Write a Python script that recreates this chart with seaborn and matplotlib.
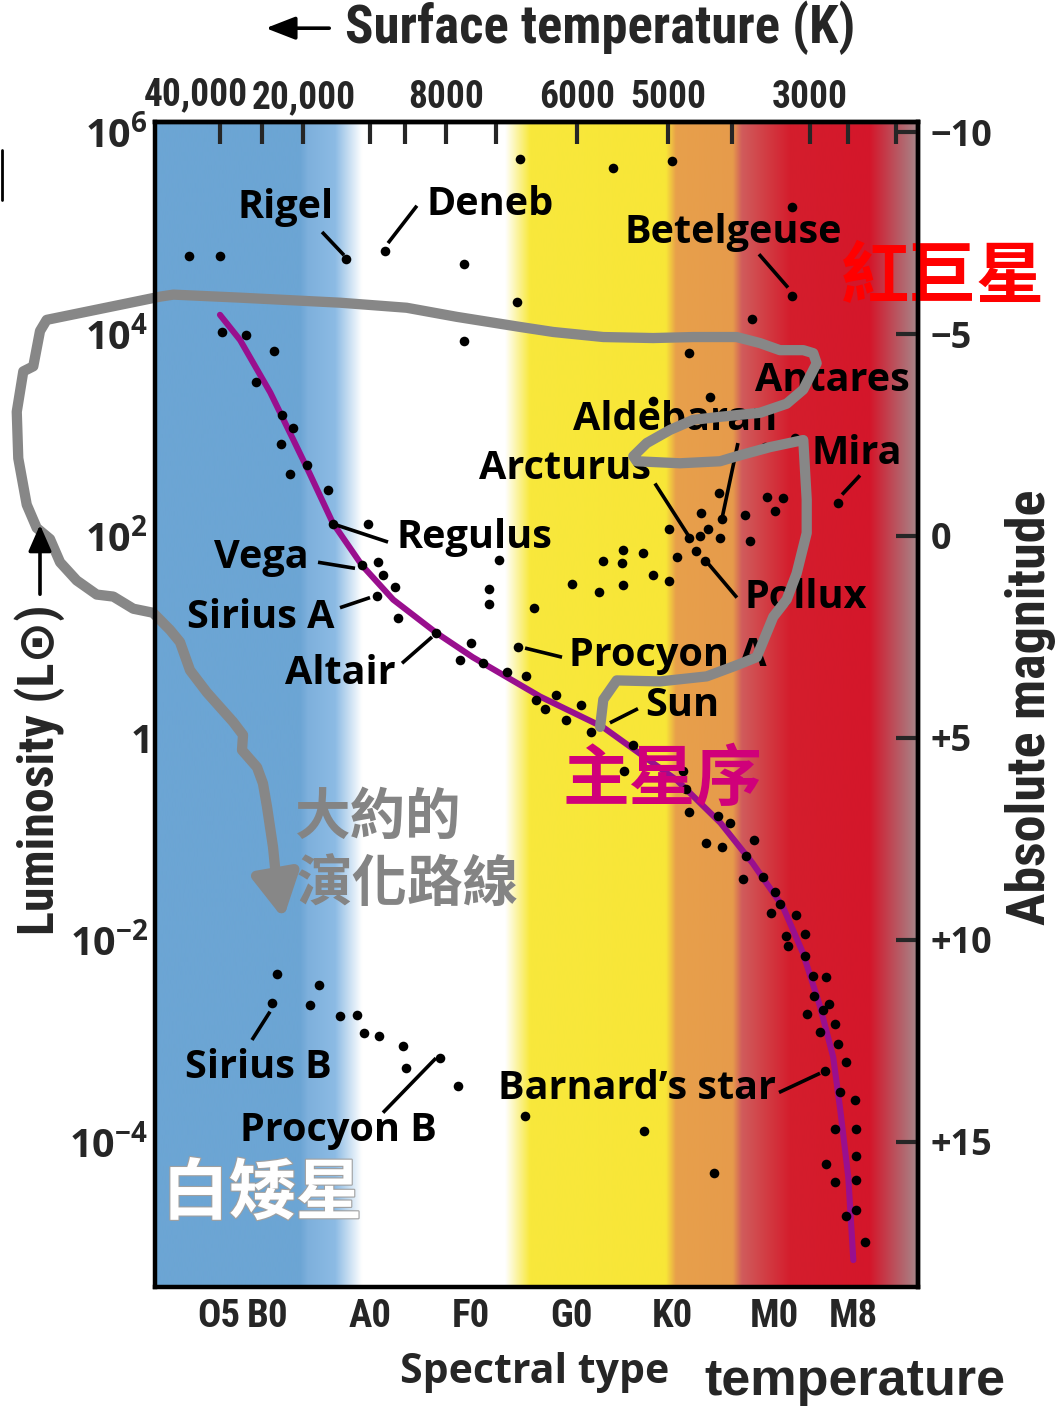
import numpy as np
import pandas as pd
import matplotlib
matplotlib.use("Agg")
import matplotlib.pyplot as plt
import matplotlib.patheffects as pe
from matplotlib import font_manager
from matplotlib.lines import Line2D
import seaborn as sns

# Spectral axis units: O=0, B=10, A=20, F=30, G=40, K=50, M=60 (+ subclass)
spectral_ticks = [5.0, 9.8, 20.0, 30.0, 40.0, 50.0, 60.2, 68.0]
spectral_labels = ["O5", "B0", "A0", "F0", "G0", "K0", "M0", "M8"]

# Surface temperature scale along the top edge
temp_tick_pos = [5.1, 9.25, 13.38, 20.0, 23.48, 27.55, 32.51, 40.53, 49.62, 55.98, 63.69, 67.5, 72.24]
temp_tick_labels = ["", "", "20,000", "", "", "8000", "", "6000", "5000", "", "3000", "", ""]

# Luminosity as log10(L / Lsun), with matching absolute magnitudes
lum_ticks = [6, 4, 2, 0, -2, -4]
lum_labels = [r"$10^{6}$", r"$10^{4}$", r"$10^{2}$", r"$1$", r"$10^{-2}$", r"$10^{-4}$"]
mag_labels = ["\u221210", "\u22125", "0", "+5", "+10", "+15"]

# Giants and supergiants
giant_spec = [2.0, 5.1, 17.6, 21.5, 29.3, 34.6, 29.3, 34.9, 44.1, 50.0, 61.9, 61.9, 57.9, 51.7,
              53.8, 48.1, 62.2, 59.2, 66.5, 54.7, 59.4, 61.0, 60.2, 52.9, 55.0, 57.2, 49.7, 51.7,
              52.8, 53.6, 54.8, 57.7, 52.4, 53.3, 50.5, 45.1, 47.1, 45.0, 43.1, 48.1, 49.7, 40.1,
              42.7, 45.1, 36.3, 32.8, 31.8, 31.8]
giant_logl = [4.77, 4.77, 4.74, 4.82, 4.69, 4.32, 3.93, 5.73, 5.64, 5.71, 5.26, 4.38, 4.15, 3.81,
              3.38, 3.34, 2.97, 2.88, 2.33, 2.43, 2.39, 2.38, 2.25, 2.23, 2.17, 2.21, 2.07, 1.98,
              2.00, 2.07, 1.98, 1.95, 1.85, 1.75, 1.79, 1.86, 1.83, 1.73, 1.75, 1.61, 1.55, 1.52,
              1.45, 1.51, 1.29, 1.76, 1.48, 1.33]

# Main-sequence stars
ms_spec = [5.3, 7.7, 10.5, 8.7, 11.3, 12.4, 11.2, 13.7, 12.1, 15.8, 19.8, 16.3, 19.2, 20.8, 21.3,
           22.5, 20.7, 22.8, 26.6, 30.0, 28.9, 31.2, 33.6, 35.5, 36.5, 34.7, 37.4, 38.5, 39.5,
           41.0, 41.9, 46.1, 45.2, 51.1, 51.4, 51.7, 54.6, 55.8, 53.4, 55.0, 58.1, 57.3, 57.0,
           59.0, 60.2, 60.7, 59.8, 62.3, 61.3, 63.2, 61.5, 63.2, 64.0, 65.3, 64.1, 65.6, 65.0,
           63.4, 66.2, 64.7, 66.5, 67.3, 65.2, 66.7, 68.2, 66.2, 68.3, 68.3, 65.3, 66.2, 68.3,
           68.3, 67.3, 69.2]
ms_logl = [4.02, 3.99, 3.83, 3.52, 3.20, 3.07, 2.91, 2.70, 2.61, 2.46, 2.12, 2.12, 1.71, 1.74, 1.61,
           1.49, 1.41, 1.19, 1.04, 0.94, 0.77, 0.74, 0.65, 0.61, 0.38, 0.90, 0.29, 0.43, 0.18,
           0.33, 0.06, -0.07, -0.33, -0.33, -0.51, -0.73, -0.77, -0.84, -1.04, -1.08, -1.01, -1.17,
           -1.40, -1.38, -1.53, -1.64, -1.73, -1.75, -1.96, -1.94, -2.06, -2.16, -2.36, -2.37,
           -2.55, -2.63, -2.69, -2.73, -2.83, -2.91, -3.03, -3.21, -3.30, -3.51, -3.58, -3.87,
           -3.87, -4.14, -4.22, -4.40, -4.38, -4.67, -4.73, -4.99]

# White dwarfs and other faint stars
faint_spec = [10.8, 14.9, 10.3, 14.0, 17.0, 18.7, 19.4, 20.9, 23.3, 27.0, 23.6, 28.7, 35.4, 47.2, 54.2]
faint_logl = [-2.34, -2.45, -2.62, -2.64, -2.75, -2.74, -2.92, -2.95, -3.05, -3.17, -3.27, -3.45,
              -3.74, -3.89, -4.31]

# Main-sequence ridge line
ridge_spec = [5.1, 7.1, 10.1, 12.4, 14.0, 16.3, 19.2, 22.3, 26.6, 30.2, 36.9, 43.1, 50.5, 54.8,
              58.0, 61.0, 63.0, 64.7, 66.0, 66.7, 67.5, 68.0]
ridge_logl = [4.19, 3.94, 3.42, 2.95, 2.62, 2.13, 1.71, 1.37, 1.04, 0.80, 0.41, 0.11, -0.42, -0.84,
              -1.24, -1.67, -2.13, -2.66, -3.16, -3.68, -4.35, -5.17]

# Approximate evolutionary track of a Sun-like star
track_spec = [42.85, 43.17, 44.50, 48.80, 53.44, 56.41, 58.40, 59.39, 60.05, 61.38, 62.37, 63.37,
              63.37, 63.03, 59.72, 56.42, 54.76, 50.79, 46.48, 46.15, 47.48, 49.79, 52.10, 54.76,
              58.73, 61.38, 63.03, 63.69, 64.36, 64.02, 63.03, 60.71, 58.73, 56.41, 52.10, 48.13,
              43.17, 38.20, 34.90, 28.61, 23.64, 17.02, 7.09, 0.47, -0.85, -12.11, -12.77, -13.44,
              -14.43, -15.08, -14.93, -14.09, -13.10, -11.78, -10.78, -9.13, -7.14, -5.49, -3.51,
              -1.55, 0.14, 1.13, 2.13, 3.81, 6.40, 7.39, 7.29, 8.78, 9.37, 9.77, 10.37, 10.67]
track_logl = [0.11, 0.38, 0.57, 0.56, 0.61, 0.72, 0.80, 1.04, 1.20, 1.37, 1.63, 2.03,
              2.36, 2.95, 2.88, 2.79, 2.74, 2.72, 2.74, 2.79, 2.92, 3.05, 3.15, 3.18,
              3.22, 3.31, 3.45, 3.58, 3.71, 3.81, 3.84, 3.84, 3.91, 3.97, 3.97, 3.96,
              3.97, 4.02, 4.07, 4.17, 4.26, 4.31, 4.36, 4.39, 4.37, 4.14, 4.03, 3.68,
              3.63, 3.23, 2.77, 2.31, 2.08, 1.97, 1.74, 1.56, 1.42, 1.40, 1.28,
              1.24, 1.07, 0.95, 0.67, 0.45, 0.16, 0.03, -0.12, -0.29, -0.45, -0.68, -1.08, -1.38]
track_tip = (11.39, -1.79)

# ---------------------------------------------------------------------------
sns.set_style("white")
plt.rcParams["mathtext.fontset"] = "custom"
plt.rcParams["mathtext.rm"] = "Open Sans:bold"
plt.rcParams["mathtext.bf"] = "Open Sans:bold"
plt.rcParams["mathtext.it"] = "Open Sans:bold"
plt.rcParams["font.family"] = ["Open Sans", "DejaVu Sans"]

installed = {f.name for f in font_manager.fontManager.ttflist}
if "Liberation Sans Narrow" in installed:
    NARROW, NSCALE = "Liberation Sans Narrow", 1.0
elif "Roboto Condensed" in installed:
    NARROW, NSCALE = "Roboto Condensed", 1.0
else:
    NARROW, NSCALE = "Liberation Sans", 0.82
CJK = ["Noto Sans CJK TC", "DejaVu Sans"]
LABEL = ["Open Sans", "DejaVu Sans"]

XMIN, XMAX = -1.35, 74.42
YMIN, YMAX = -5.436, 6.099

fig = plt.figure(figsize=(10.61, 14.09), dpi=100)
ax = fig.add_axes([0.1461, 0.0866, 0.7191, 0.8268])

# temperature-coloured background bands
stop_x = [XMIN, 13.05, 13.85, 16.53, 19.2, 33.43, 35.9, 49.4, 50.4, 56.05, 56.95, 61.7, 69.66, XMAX]
stop_rgb = [(108, 165, 212), (108, 165, 212), (126, 176, 220), (140, 187, 228), (255, 255, 255),
            (255, 255, 255), (248, 232, 60), (248, 230, 55), (232, 160, 75), (230, 155, 75),
            (208, 92, 92), (212, 30, 45), (212, 22, 42), (165, 135, 138)]
gx = np.linspace(XMIN, XMAX, 1500)
grad = np.stack([np.interp(gx, stop_x, [c[i] for c in stop_rgb]) for i in range(3)], axis=-1) / 255.0
ax.imshow(grad[None, :, :], extent=[XMIN, XMAX, YMIN, YMAX], aspect="auto",
          interpolation="bilinear", zorder=0)

# main-sequence ridge
sns.lineplot(x=ridge_spec, y=ridge_logl, sort=False, estimator=None, color="#990f8e",
             linewidth=4.4, ax=ax, zorder=2)

# stars
stars = pd.concat([
    pd.DataFrame({"spec": giant_spec, "logL": giant_logl, "kind": "giant"}),
    pd.DataFrame({"spec": ms_spec, "logL": ms_logl, "kind": "main sequence"}),
    pd.DataFrame({"spec": faint_spec, "logL": faint_logl, "kind": "faint"}),
])
sns.scatterplot(data=stars, x="spec", y="logL", color="black", s=48, linewidth=0,
                legend=False, ax=ax, zorder=3)

# named stars: label position and leader line
named = [
    ("Rigel", 11.66, 5.25, (15.24, 5.01, 17.42, 4.78)),
    ("Deneb", 31.92, 5.28, (21.79, 4.90, 24.66, 5.27)),
    ("Betelgeuse", 56.05, 5.01, (58.63, 4.79, 61.51, 4.46)),
    ("Antares", 65.87, 3.54, None),
    ("Aldebaran", 50.29, 3.15, (56.54, 2.92, 54.95, 2.17)),
    ("Arcturus", 39.36, 2.67, (48.30, 2.52, 51.58, 2.01)),
    ("Mira", 68.36, 2.82, (68.66, 2.60, 66.88, 2.41)),
    ("Regulus", 30.33, 1.99, (16.32, 2.12, 21.79, 1.94)),
    ("Vega", 9.18, 1.79, (14.84, 1.74, 18.51, 1.68)),
    ("Sirius A", 9.18, 1.19, (17.02, 1.29, 20.0, 1.39)),
    ("Altair", 17.02, 0.64, (23.18, 0.74, 26.16, 1.0)),
    ("Pollux", 63.3, 1.39, (53.56, 1.73, 56.44, 1.39)),
    ("Procyon A", 49.6, 0.82, (35.40, 0.89, 39.07, 0.80)),
    ("Sun", 50.99, 0.32, (43.83, 0.15, 46.61, 0.29)),
    ("Sirius B", 8.88, -3.26, (8.28, -2.99, 10.07, -2.71)),
    ("Procyon B", 16.82, -3.89, (21.29, -3.71, 26.55, -3.17)),
    ("Barnard\u2019s star", 46.51, -3.47, (60.62, -3.51, 64.69, -3.32)),
]
for name, tx, ty, lead in named:
    ax.text(tx, ty, name, ha="center", va="center", fontsize=28.5, fontweight="bold",
            family=LABEL, color="black", zorder=4)
    if lead is not None:
        ax.plot([lead[0], lead[2]], [lead[1], lead[3]], color="black", lw=2.6,
                solid_capstyle="butt", zorder=4)

# evolutionary track, drawn over everything
sns.lineplot(x=track_spec, y=track_logl, sort=False, estimator=None, color="#878787",
             linewidth=7.4, ax=ax, zorder=6, clip_on=False,
             solid_joinstyle="round", solid_capstyle="round")
ax.annotate("", xy=track_tip, xytext=(track_spec[-1], track_logl[-1]),
            arrowprops=dict(arrowstyle="-|>,head_length=2.6,head_width=1.4",
                            color="#878787", lw=7.4, shrinkA=0, shrinkB=0),
            annotation_clip=False, zorder=6)

# Chinese annotations
ax.text(76.9, 4.55, "紅巨星", color="#ff0000", fontsize=49, fontweight="bold", family=CJK,
        ha="center", va="center", zorder=7, clip_on=False)
ax.text(49.09, -0.42, "主星序", color="#d0007a", fontsize=48, fontweight="bold", family=CJK,
        ha="center", va="center", zorder=7)
ax.text(9.29, -4.52, "白矮星", color="white", fontsize=48, fontweight="bold", family=CJK,
        ha="center", va="center", zorder=7,
        path_effects=[pe.withStroke(linewidth=1.6, foreground="#a0a0a0")])
ax.text(20.80, -0.79, "大約的", color="#848484", fontsize=40, fontweight="bold", family=CJK,
        ha="center", va="center", zorder=7)
ax.text(23.78, -1.46, "演化路線", color="#848484", fontsize=40, fontweight="bold", family=CJK,
        ha="center", va="center", zorder=7)

# axes, ticks, spines
ax.set_xlim(XMIN, XMAX)
ax.set_ylim(YMIN, YMAX)
ax.set_xlabel("")
ax.set_ylabel("")
for s in ax.spines.values():
    s.set_linewidth(3.2)
    s.set_color("black")
    s.set_zorder(8)

ax.set_xticks(spectral_ticks, spectral_labels)
ax.set_yticks(lum_ticks, lum_labels)
ax.tick_params(axis="both", direction="in", length=16, width=3, color="black")
ax.tick_params(axis="x", pad=8)
ax.tick_params(axis="y", pad=5, labelsize=28.5)
for lab in ax.get_xticklabels():
    lab.set_fontfamily(NARROW)
    lab.set_fontweight("bold")
    lab.set_fontsize(28 * NSCALE)

top = ax.secondary_xaxis("top")
top.set_xticks(temp_tick_pos, temp_tick_labels)
top.tick_params(direction="in", length=16, width=3, pad=4)
top.spines["top"].set_linewidth(3.2)
for lab in top.get_xticklabels():
    lab.set_fontfamily(NARROW)
    lab.set_fontweight("bold")
    lab.set_fontsize(27 * NSCALE)
ax.text(2.75, YMAX + 0.09, "40,000", ha="center", va="bottom",
        fontsize=27 * NSCALE, fontweight="bold", family=NARROW, clip_on=False)

right = ax.secondary_yaxis("right")
right.set_yticks(lum_ticks, mag_labels)
right.tick_params(direction="in", length=16, width=3, pad=9)
right.spines["right"].set_linewidth(3.2)
for lab in right.get_yticklabels():
    lab.set_fontfamily(LABEL)
    lab.set_fontweight("bold")
    lab.set_fontsize(26)

# figure-level titles
fig.text(0.5655, 0.980, "Surface temperature (K)", ha="center", va="center",
         fontsize=38 * NSCALE, fontweight="bold", family=NARROW)
fig.add_artist(matplotlib.patches.FancyArrowPatch(
    (332 / 1061, 0.980), (263 / 1061, 0.980), transform=fig.transFigure,
    arrowstyle="-|>,head_length=0.9,head_width=0.35", mutation_scale=20, lw=2.6, color="black"))
fig.text(0.504, 0.0262, "Spectral type", ha="center", va="center", fontsize=29.5,
         fontweight="bold", family=LABEL)
fig.text(0.806, 0.0192, "temperature", ha="center", va="center", fontsize=37.5,
         fontweight="bold", family="Liberation Sans")
fig.text(0.0377, 0.4535, "Luminosity (L\u2299)", rotation=90, ha="center", va="center",
         fontsize=36 * NSCALE, fontweight="bold", family=[NARROW, "DejaVu Sans"])
fig.add_artist(matplotlib.patches.FancyArrowPatch(
    (0.0377, 1 - 597 / 1409), (0.0377, 1 - 522 / 1409), transform=fig.transFigure,
    arrowstyle="-|>,head_length=0.8,head_width=0.35", mutation_scale=20, lw=2.6, color="black"))
fig.text(0.971, 0.498, "Absolute magnitude", rotation=90, ha="center", va="center",
         fontsize=39 * NSCALE, fontweight="bold", family=NARROW)
fig.add_artist(Line2D([0.0015, 0.0015], [1 - 150 / 1409, 1 - 200 / 1409],
                      transform=fig.transFigure, color="black", lw=2))

fig.savefig("out.png", dpi=100)
